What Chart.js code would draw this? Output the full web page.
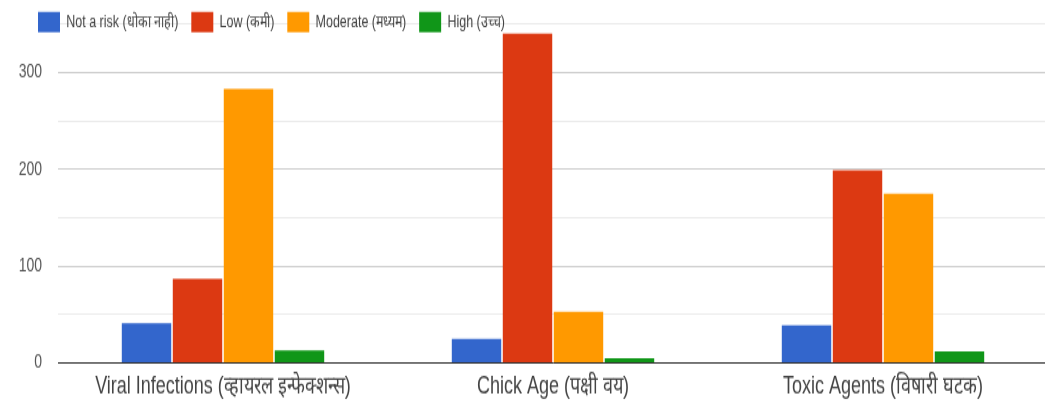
<!DOCTYPE html>
<html>
<head>
<meta charset="utf-8">
<script src="https://cdn.jsdelivr.net/npm/chart.js@4.4.1/dist/chart.umd.min.js"></script>
<style>
  html { margin: 0; padding: 0; overflow: hidden; background: #ffffff; }
  body { margin: 0; padding: 0; width: 1045px; height: 407px; background: #ffffff; }
  .frame { width: 1050px; height: 407px; }
  /* the chart is rendered 300px tall and stretched to 407px on screen */
  .stretch { width: 1050px; height: 300px; transform: scaleY(1.35667); transform-origin: 0 0; }
</style>
</head>
<body>
<div class="frame"><div class="stretch"><canvas id="riskChart" width="1050" height="300"></canvas></div></div>
<script>
// Survey answers: how much of a risk each factor is
const categories = [
  'Viral Infections (व्हायरल इन्फेक्शन्स)',
  'Chick Age (पक्षी वय)',
  'Toxic Agents (विषारी घटक)'
];
const seriesNames = [
  'Not a risk (धोका नाही)',
  'Low (कमी)',
  'Moderate (मध्यम)',
  'High (उच्च)'
];
const notARisk = [41, 25, 39];
const low      = [87, 340, 199];
const moderate = [283, 53, 175];
const high     = [13, 5, 12];
const yTickLabels = [0, 100, 200, 300];

const FONT = "'Liberation Sans', Arial, sans-serif";

// Legend is laid over the top of the plot instead of taking its own band
const LEGEND_BOX_TOP = 8.8;
const LEGEND_START_X = 38;
const overlayLegend = {
  id: 'overlayLegend',
  beforeLayout(chart) {
    const lg = chart.legend;
    if (!lg || lg.__overlay) return;
    const update = lg.update;
    lg.update = function (...args) {
      update.apply(this, args);
      this.__fullHeight = this.height;
      this.height = 0;
    };
    lg.__overlay = true;
  },
  afterLayout(chart) {
    const lg = chart.legend;
    if (!lg) return;
    const pad = lg.options.labels.padding;
    lg.height = lg.__fullHeight;
    lg.left = LEGEND_START_X - pad;
    lg.right = lg.left + lg.width;
    lg.top = LEGEND_BOX_TOP - pad;
    lg.bottom = lg.top + lg.height;
  }
};

new Chart(document.getElementById('riskChart'), {
  type: 'bar',
  data: {
    labels: categories,
    datasets: [
      { label: seriesNames[0], data: notARisk, backgroundColor: '#3366cc' },
      { label: seriesNames[1], data: low,      backgroundColor: '#dc3912' },
      { label: seriesNames[2], data: moderate, backgroundColor: '#ff9900' },
      { label: seriesNames[3], data: high,     backgroundColor: '#109618' }
    ]
  },
  plugins: [overlayLegend],
  options: {
    responsive: false,
    animation: false,
    devicePixelRatio: 1,
    layout: { padding: { top: 17.7, right: 2, left: 0, bottom: 0 } },
    datasets: {
      bar: { categoryPercentage: 0.618, barPercentage: 0.97, borderWidth: 0 }
    },
    plugins: {
      tooltip: { enabled: false },
      legend: {
        position: 'top',
        align: 'start',
        labels: {
          boxWidth: 22,
          boxHeight: 15,
          padding: 13,
          color: '#444444',
          font: { family: FONT, size: 12.5 }
        }
      }
    },
    scales: {
      x: {
        afterFit(scale) { scale.height = 32.4; },
        grid: { display: false, drawTicks: false },
        border: { display: true, color: '#333333', width: 1 },
        ticks: {
          padding: 7,
          color: '#444444',
          font: { family: FONT, size: 18 },
          autoSkip: false,
          maxRotation: 0
        }
      },
      y: {
        min: 0,
        max: 350,
        afterFit(scale) { scale.width = 58; },
        border: { display: false },
        grid: {
          drawTicks: true,
          tickLength: 16,
          tickColor: 'rgba(0,0,0,0)',
          lineWidth: 1,
          color: ctx => (ctx.tick && ctx.tick.value % 100 === 0) ? '#cccccc' : '#ebebeb'
        },
        ticks: {
          stepSize: 50,
          padding: 0,
          color: '#555555',
          font: { family: FONT, size: 14 },
          callback: v => yTickLabels.includes(v) ? String(v) : ''
        }
      }
    }
  }
});
</script>
</body>
</html>
